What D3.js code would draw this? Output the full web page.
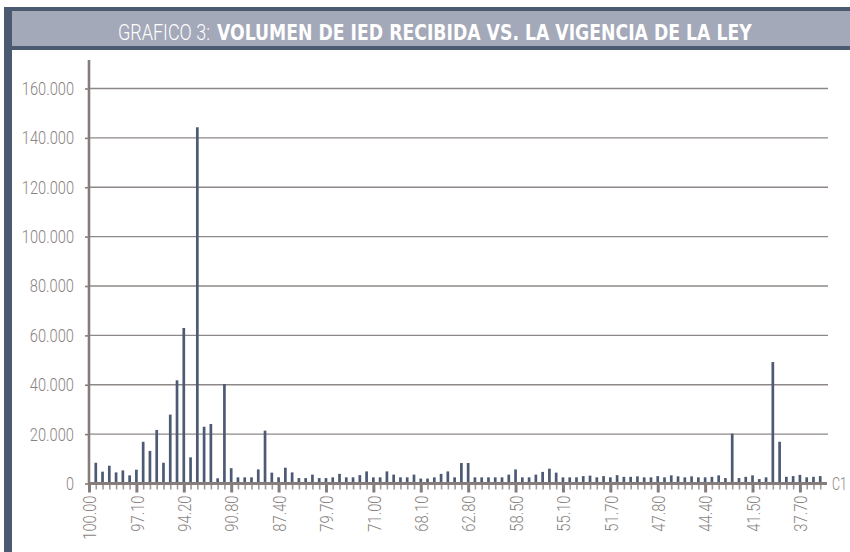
<!DOCTYPE html>
<html><head><meta charset="utf-8">
<script src="https://cdn.jsdelivr.net/npm/d3@7"></script>
<style>body{margin:0;background:#fff}svg{display:block}</style>
</head><body><svg id="c" width="850" height="552"></svg>
<script>
// ---- data ----
const titleLight = "GRAFICO 3:";
const titleBold = "VOLUMEN DE IED RECIBIDA VS. LA VIGENCIA DE LA LEY";
const seriesName = "C1";
const values = [
  0, 8400, 4800, 7200, 4500, 5300, 3300, 5600, 16900, 13200,
  21700, 8400, 27900, 41800, 63000, 10600, 144300, 23000, 24100, 2100,
  40300, 6200, 2500, 2500, 2500, 5700, 21400, 4400, 2500, 6400,
  4500, 2200, 2200, 3600, 2200, 2200, 2500, 3900, 2500, 2500,
  3400, 4900, 2500, 2500, 4900, 3600, 2500, 2500, 3600, 2000,
  2000, 2500, 3900, 4900, 2500, 8300, 8300, 2500, 2500, 2500,
  2500, 2500, 3600, 5700, 2500, 2500, 3600, 4700, 6000, 4400,
  2500, 2500, 2500, 3000, 3200, 2500, 3000, 2500, 3400, 2700,
  2700, 2900, 2500, 2500, 3000, 2500, 3300, 2900, 2500, 2900,
  2500, 2500, 2700, 3300, 2200, 20200, 2200, 2700, 3300, 1800,
  2500, 49200, 16900, 2700, 3000, 3500, 2500, 2700, 3000
];
const tickLabels = ["100.00","97.10","94.20","90.80","87.40","79.70","71.00","68.10",
  "62.80","58.50","55.10","51.70","47.80","44.40","41.50","37.70"];
const labelEvery = 7;
const yTicks = [0, 20000, 40000, 60000, 80000, 100000, 120000, 140000, 160000];

// ---- drawing ----
const svg = d3.select("#c");
const FONT = "Roboto,'Liberation Sans',sans-serif";
const BFONT = "'DejaVu Sans Condensed','Liberation Sans',sans-serif";
const dark = "#4b5a70", band = "#a4a9b9", grid = "#8d8886", axisC = "#857d7b", txt = "#8a8482", barC = "#4c5a73";

// width of a condensed numeric label (digit ~8px, period ~4px)
const numW = s => s.split("").reduce((w, c) => w + (c === "." ? 4.2 : 8.0), 0);
function styleNum(sel) {
  sel.attr("fill", txt).attr("font-family", FONT).attr("font-size", 18.5).attr("font-weight", 300)
    .attr("lengthAdjust", "spacingAndGlyphs").attr("textLength", function () { return numW(this.textContent); });
}
// horizontally condense a text placed at (px,py) to the given width
function condensed(parent, px, py, width, str, attrs) {
  const g = parent.append("g");
  const t = g.append("text").attr("x", 0).attr("y", 0).text(str);
  Object.entries(attrs).forEach(([k, v]) => t.attr(k, v));
  const w = t.node().getComputedTextLength();
  g.attr("transform", `translate(${px},${py}) scale(${width / w},1)`);
  return t;
}

// frame
svg.append("rect").attr("x", 4).attr("y", 7).attr("width", 846).attr("height", 545).attr("fill", dark);
svg.append("rect").attr("x", 12).attr("y", 11).attr("width", 838).attr("height", 35).attr("fill", band);
svg.append("rect").attr("x", 12).attr("y", 50).attr("width", 838).attr("height", 502).attr("fill", "#fff");

// title
condensed(svg, 118, 40, 92, titleLight,
  {"fill": "#fff", "font-family": FONT, "font-size": 22, "font-weight": 300});
condensed(svg, 217, 40, 535, titleBold,
  {"fill": "#fff", "font-family": BFONT, "font-size": 21, "font-weight": 700});

const x0 = 89, x1 = 827;
const x = d3.scaleLinear().domain([0, values.length]).range([x0, x1]);
const y = d3.scaleLinear().domain([0, 160000]).range([483.5, 88.5]);

// gridlines
svg.append("g").selectAll("line").data(yTicks.slice(1)).join("line")
  .attr("x1", x0).attr("x2", x1 + 1).attr("y1", d => y(d)).attr("y2", d => y(d))
  .attr("stroke", grid).attr("stroke-width", 1.4);

// y axis
const yAxis = svg.append("g").attr("transform", `translate(${x0},0)`)
  .call(d3.axisLeft(y).tickValues(yTicks).tickSize(4).tickPadding(11)
    .tickFormat(d => d3.format(",")(d).replace(/,/g, ".")));
yAxis.select(".domain").remove();
yAxis.selectAll(".tick line").attr("stroke", axisC).attr("stroke-width", 1.6);
yAxis.selectAll("text").call(styleNum);
svg.append("line").attr("x1", x0).attr("x2", x0).attr("y1", 60).attr("y2", 485)
  .attr("stroke", axisC).attr("stroke-width", 2.6);

// bars
svg.append("g").selectAll("line").data(values.map((v, i) => ({v, i})).filter(d => d.i > 0)).join("line")
  .attr("x1", d => x(d.i)).attr("x2", d => x(d.i))
  .attr("y1", y(0)).attr("y2", d => y(d.v))
  .attr("stroke", barC).attr("stroke-width", 2.7);

// x axis: minor ticks
const minor = svg.append("g").attr("transform", `translate(0,${y(0)})`)
  .call(d3.axisBottom(x).tickValues(d3.range(0, values.length).filter(i => i % labelEvery)).tickSize(6).tickFormat(""));
minor.select(".domain").remove();
minor.selectAll(".tick line").attr("stroke", "#9e9896").attr("stroke-width", 1.6);

// x axis: major ticks + labels
const major = svg.append("g").attr("transform", `translate(0,${y(0)})`)
  .call(d3.axisBottom(x).tickValues(tickLabels.map((t, k) => k * labelEvery)).tickSize(9)
    .tickFormat(i => tickLabels[i / labelEvery]));
major.select(".domain").remove();
major.selectAll(".tick line").attr("stroke", axisC).attr("stroke-width", 3);
major.selectAll("text").call(styleNum)
  .attr("transform", "rotate(-90)").attr("text-anchor", "end")
  .attr("x", -12).attr("y", 0).attr("dy", "0.36em");

svg.append("line").attr("x1", x0).attr("x2", x1).attr("y1", y(0)).attr("y2", y(0))
  .attr("stroke", axisC).attr("stroke-width", 3);

// series label
condensed(svg, 832, y(0), 15, seriesName,
  {"fill": txt, "font-family": FONT, "font-size": 18.5, "font-weight": 300, "dy": "0.36em"});
</script></body></html>
